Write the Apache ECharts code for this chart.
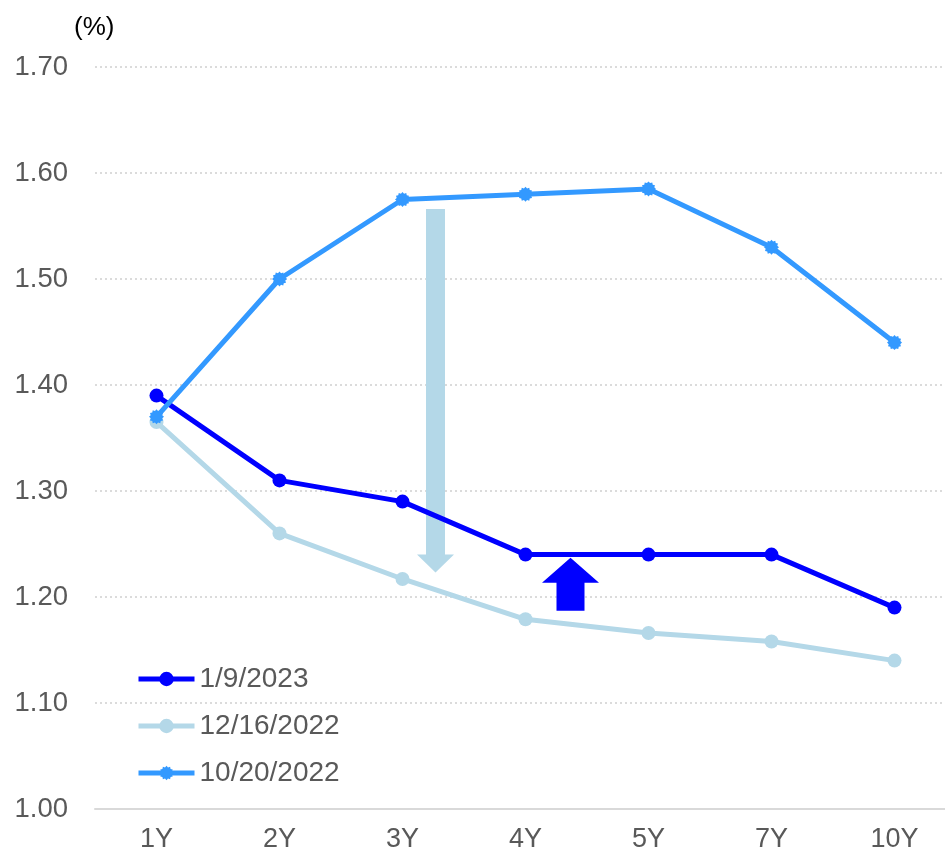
<!DOCTYPE html>
<html>
<head>
<meta charset="utf-8">
<script src="https://cdn.jsdelivr.net/npm/echarts@6/dist/echarts.min.js"></script>
<style>
  html, body { margin: 0; padding: 0; background: #fff; }
  #chart { width: 945px; height: 856px; }
</style>
</head>
<body>
<div id="chart"></div>
<script>
// Yield curve snapshots (%), by maturity
const tenors = ['1Y', '2Y', '3Y', '4Y', '5Y', '7Y', '10Y'];
const yields20230109 = [1.39, 1.31, 1.29, 1.24, 1.24, 1.24, 1.19];
const yields20221216 = [1.365, 1.26, 1.217, 1.179, 1.166, 1.158, 1.14];
const yields20221020 = [1.37, 1.50, 1.575, 1.58, 1.585, 1.53, 1.44];
const seriesNames = ['1/9/2023', '12/16/2022', '10/20/2022'];
const yTicks = { min: 1.0, max: 1.7, step: 0.1 };

// Spiky round marker for the October curve
function burstPath(points, rOuter, rInner) {
  let d = '';
  for (let i = 0; i < points * 2; i++) {
    const r = i % 2 === 0 ? rOuter : rInner;
    const a = (Math.PI * i) / points;
    const x = (50 + r * Math.cos(a)).toFixed(2);
    const y = (50 + r * Math.sin(a)).toFixed(2);
    d += (i === 0 ? 'M' : 'L') + x + ' ' + y + ' ';
  }
  return 'path://' + d + 'Z';
}

const C_DARK = '#0000FF';
const C_LIGHT = '#B4D8E8';
const C_MID = '#3399FF';
const FONT = 'Liberation Sans, Arial, sans-serif';

const chart = echarts.init(document.getElementById('chart'), null, { renderer: 'canvas' });

function lineSeries(name, data, color, symbol, size) {
  return {
    name: name,
    type: 'line',
    data: data,
    symbol: symbol,
    symbolSize: size,
    showSymbol: true,
    lineStyle: { color: color, width: 5 },
    itemStyle: { color: color, borderWidth: 0 },
    emphasis: { disabled: true },
    z: 3
  };
}

const pctLabel = {
  type: 'text',
  left: 74,
  top: 15,
  style: { text: '(%)', fill: '#000000', font: '26px ' + FONT }
};

chart.setOption({
  animation: false,
  backgroundColor: '#ffffff',
  textStyle: { fontFamily: FONT },
  grid: { left: 95, top: 67, width: 861, height: 742, containLabel: false, outerBoundsMode: 'none' },
  xAxis: {
    type: 'category',
    data: tenors,
    boundaryGap: true,
    axisLine: { show: true, lineStyle: { color: '#D9D9D9', width: 2 } },
    axisTick: { show: false },
    axisLabel: { color: '#595959', fontSize: 27, fontFamily: FONT, margin: 17 },
    splitLine: { show: false }
  },
  yAxis: {
    type: 'value',
    min: yTicks.min,
    max: yTicks.max,
    interval: yTicks.step,
    axisLine: { show: false },
    axisTick: { show: false },
    axisLabel: {
      color: '#595959', fontSize: 27.5, fontFamily: FONT, margin: 27,
      formatter: v => v.toFixed(2)
    },
    splitLine: { show: true, lineStyle: { color: '#D0D0D0', width: 1.5, type: [2, 3] } }
  },
  legend: {
    orient: 'vertical',
    left: 131,
    top: 660,
    itemWidth: 56,
    itemHeight: 18,
    itemGap: 19,
    lineStyle: { width: 5 },
    textStyle: { color: '#595959', fontSize: 28, fontFamily: FONT },
    data: seriesNames
  },
  graphic: [pctLabel],
  series: [
    lineSeries(seriesNames[0], yields20230109, C_DARK, 'circle', 14),
    lineSeries(seriesNames[1], yields20221216, C_LIGHT, 'circle', 14),
    lineSeries(seriesNames[2], yields20221020, C_MID, burstPath(12, 50, 40), 15)
  ]
});

// Shift annotations: a long downward arrow (Oct -> Dec) and a short upward arrow (Dec -> Jan)
function arrowPoints(cx, yTail, yTip, shaftHalf, headHalf, headLen) {
  const dir = yTip > yTail ? 1 : -1;
  const yBase = yTip - dir * headLen;
  return [
    [cx - shaftHalf, yTail], [cx + shaftHalf, yTail],
    [cx + shaftHalf, yBase], [cx + headHalf, yBase],
    [cx, yTip],
    [cx - headHalf, yBase], [cx - shaftHalf, yBase]
  ];
}
const px = (cat, offset) => chart.convertToPixel({ xAxisIndex: 0 }, cat) + offset;
const py = v => chart.convertToPixel({ yAxisIndex: 0 }, v);

chart.setOption({
  graphic: [pctLabel, {
    type: 'polygon',
    shape: { points: arrowPoints(px('3Y', 33), py(1.566), py(1.223), 9.5, 18.5, 18) },
    style: { fill: C_LIGHT },
    z: 2
  }, {
    type: 'polygon',
    shape: { points: arrowPoints(px('4Y', 45), py(1.187), py(1.237), 14, 28.5, 25) },
    style: { fill: C_DARK },
    z: 2
  }]
});
</script>
</body>
</html>
